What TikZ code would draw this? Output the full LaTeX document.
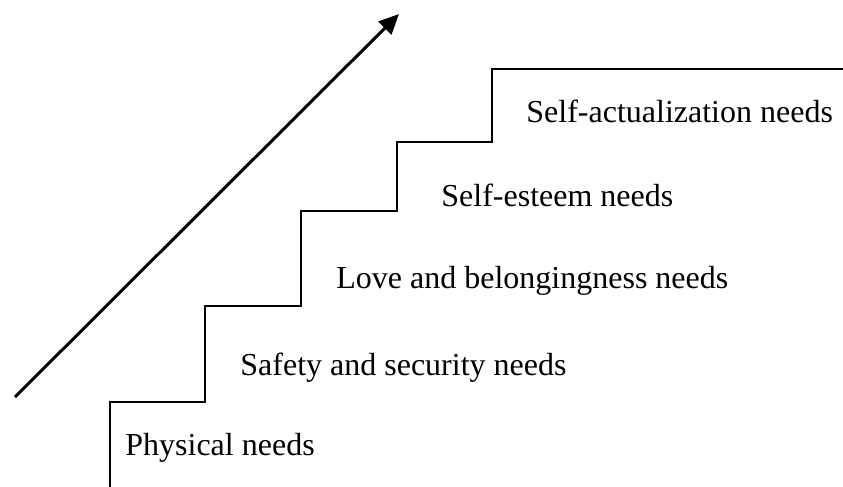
\documentclass[tikz,border=0pt]{standalone}
\usepackage{fontspec}
\setmainfont{Liberation Serif}
\usetikzlibrary{arrows.meta}
\begin{document}
\begin{tikzpicture}[x=0.5pt,y=-0.5pt,
  stair/.style={line width=1pt,line cap=rect},
  rise/.style={line width=1.5pt,-{Triangle[length=10pt,width=9pt]}},
  lvl/.style={anchor=base west,inner sep=0pt,font=\fontsize{16}{19}\selectfont}]
\useasboundingbox (0,0) rectangle (843,487);
\coordinate (s0) at (110,487);
\coordinate (s1) at (110,402);
\coordinate (s2) at (205,402);
\coordinate (s3) at (205,306);
\coordinate (s4) at (301,306);
\coordinate (s5) at (301,211);
\coordinate (s6) at (397,211);
\coordinate (s7) at (397,142);
\coordinate (s8) at (492,142);
\coordinate (s9) at (492,69);
\coordinate (s10) at (843,69);
\draw[stair] (s0) -- (s1) -- (s2) -- (s3) -- (s4) -- (s5) -- (s6) -- (s7) -- (s8) -- (s9) -- (s10);
\coordinate (a0) at (15,397);
\coordinate (a1) at (399,14);
\draw[rise] (a0) -- (a1);
\node[lvl] (phys) at (125,455) {Physical needs};
\node[lvl] (safe) at (240,375) {Safety and security needs};
\node[lvl] (love) at (336,288) {Love and belongingness needs};
\node[lvl] (este) at (441,206) {Self-esteem needs};
\node[lvl] (actu) at (526,122) {Self-actualization needs};
\end{tikzpicture}
\end{document}
